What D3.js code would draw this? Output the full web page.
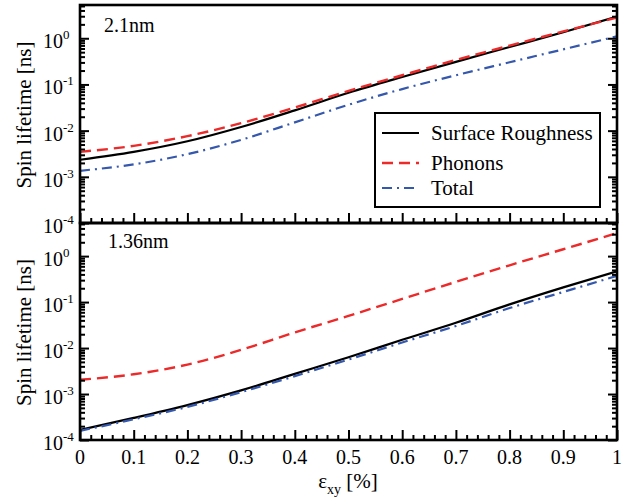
<!DOCTYPE html>
<html><head><meta charset="utf-8">
<script src="https://cdn.jsdelivr.net/npm/d3@7"></script>
<style>
body{margin:0;background:#fff}
svg{display:block}
text{font-family:"Liberation Serif","Times New Roman",serif;fill:#000}
</style>
</head><body>
<svg id="c" width="639" height="497"></svg>
<script>
// ---- data (spin lifetime in ns vs shear strain in %) ----
const strain = [0, 0.1, 0.2, 0.3, 0.4, 0.5, 0.6, 0.7, 0.8, 0.9, 1.0];
// 2.1 nm film
const sr21  = [2.34e-3, 3.47e-3, 5.89e-3, 1.20e-2, 2.75e-2, 6.6e-2, 0.145, 0.309, 0.646, 1.35, 2.95];
const ph21  = [3.47e-3, 4.68e-3, 7.59e-3, 1.45e-2, 3.16e-2, 7.24e-2, 0.158, 0.339, 0.692, 1.41, 2.82];
const tot21 = [1.35e-3, 1.86e-3, 3.09e-3, 6.31e-3, 1.51e-2, 3.63e-2, 7.94e-2, 0.158, 0.302, 0.575, 1.10];
// 1.36 nm film
const sr136  = [1.66e-4, 3.02e-4, 5.75e-4, 1.20e-3, 2.75e-3, 6.31e-3, 1.51e-2, 3.55e-2, 8.91e-2, 0.209, 0.468];
const ph136  = [2.04e-3, 2.69e-3, 4.37e-3, 9.12e-3, 2.19e-2, 5.01e-2, 0.117, 0.275, 0.631, 1.41, 3.16];
const tot136 = [1.58e-4, 2.82e-4, 5.25e-4, 1.10e-3, 2.45e-3, 5.62e-3, 1.32e-2, 3.02e-2, 7.41e-2, 0.166, 0.372];

const panelNames = ["2.1nm", "1.36nm"];
const seriesNames = ["Surface Roughness", "Phonons", "Total"];
const xTickVals = [0, 0.1, 0.2, 0.3, 0.4, 0.5, 0.6, 0.7, 0.8, 0.9, 1];
const xTickLabels = ["0", "0.1", "0.2", "0.3", "0.4", "0.5", "0.6", "0.7", "0.8", "0.9", "1"];
const yTickVals = [1e-4, 1e-3, 1e-2, 1e-1, 1e0];
const yTickExps = ["-4", "-3", "-2", "-1", "0"];
const yDomain = [1e-4, 5.25];

// ---- layout & style ----
const styles = [
  {color: "#000000", width: 2.2, dash: null},
  {color: "#ec2a2a", width: 2.4, dash: "11,6"},
  {color: "#3558ad", width: 2.2, dash: "10,5,2,5"}
];
const L = 80, R = 617;
const panels = [
  {name: panelNames[0], data: [sr21, ph21, tot21], top: 5, bottom: 223, lx: 104, ly: 32},
  {name: panelNames[1], data: [sr136, ph136, tot136], top: 223, bottom: 440, lx: 108, ly: 248}
];

const svg = d3.select("#c");
const x = d3.scaleLinear().domain([0, 1]).range([L, R]);

panels.forEach((p, pi) => {
  const y = d3.scaleLog().domain(yDomain).range([p.bottom, p.top]);
  const g = svg.append("g");
  const clipId = "clip" + pi;
  svg.append("clipPath").attr("id", clipId).append("rect")
    .attr("x", L).attr("y", p.top).attr("width", R - L).attr("height", p.bottom - p.top);

  // curves
  const line = d3.line().x((d, i) => x(strain[i])).y(d => y(d)).curve(d3.curveMonotoneX);
  p.data.forEach((s, si) => {
    g.append("path").datum(s)
      .attr("clip-path", `url(#${clipId})`)
      .attr("d", line)
      .attr("fill", "none")
      .attr("stroke", styles[si].color)
      .attr("stroke-width", styles[si].width)
      .attr("stroke-dasharray", styles[si].dash);
  });

  const minorY = y.ticks().filter(v => !yTickVals.some(t => Math.abs(t - v) / t < 1e-6));
  const minorX = d3.range(0, 50).map(i => i * 0.02).filter(v => Math.abs(v * 10 - Math.round(v * 10)) > 1e-6);

  function styleAxis(sel) {
    sel.select(".domain").remove();
    sel.selectAll(".tick line").attr("stroke", "#000").attr("stroke-width", 2);
    sel.selectAll(".tick text").remove();
  }
  g.append("g").attr("transform", `translate(${L},0)`)
    .call(d3.axisLeft(y).tickValues(yTickVals).tickSize(-9).tickFormat("")).call(styleAxis);
  g.append("g").attr("transform", `translate(${L},0)`)
    .call(d3.axisLeft(y).tickValues(minorY).tickSize(-5).tickFormat("")).call(styleAxis);
  g.append("g").attr("transform", `translate(${R},0)`)
    .call(d3.axisRight(y).tickValues(yTickVals).tickSize(-9).tickFormat("")).call(styleAxis);
  g.append("g").attr("transform", `translate(${R},0)`)
    .call(d3.axisRight(y).tickValues(minorY).tickSize(-5).tickFormat("")).call(styleAxis);
  g.append("g").attr("transform", `translate(0,${p.bottom})`)
    .call(d3.axisBottom(x).tickValues(xTickVals).tickSize(-10).tickFormat("")).call(styleAxis);
  g.append("g").attr("transform", `translate(0,${p.bottom})`)
    .call(d3.axisBottom(x).tickValues(minorX).tickSize(-5).tickFormat("")).call(styleAxis);

  // y tick labels 10^n
  yTickVals.forEach((v, i) => {
    const t = g.append("text").attr("x", 43).attr("y", y(v) + 10).style("font-size", "20px");
    t.append("tspan").text("10");
    t.append("tspan").attr("dy", -9).style("font-size", "13px").text(yTickExps[i]);
  });

  // frame
  g.append("rect").attr("x", L).attr("y", p.top).attr("width", R - L).attr("height", p.bottom - p.top)
    .attr("fill", "none").attr("stroke", "#000").attr("stroke-width", 2.6);

  // panel label
  g.append("text").attr("x", p.lx).attr("y", p.ly).style("font-size", "20px").text(p.name);

  // y title
  g.append("text").attr("transform", `translate(31,${(p.top + p.bottom) / 2 + 1}) rotate(-90)`)
    .attr("text-anchor", "middle").style("font-size", "21px").text("Spin lifetime [ns]");
});

// x tick labels (bottom panel)
xTickVals.forEach((v, i) => {
  svg.append("text").attr("x", x(v)).attr("y", 464).attr("text-anchor", "middle")
    .style("font-size", "20px").text(xTickLabels[i]);
});
// x title
const xt = svg.append("text").attr("x", 348).attr("y", 488).attr("text-anchor", "middle").style("font-size", "21px");
xt.append("tspan").text("ε");
xt.append("tspan").attr("dy", 6).style("font-size", "14px").text("xy");
xt.append("tspan").attr("dy", -6).text(" [%]");

// legend
const lg = svg.append("g");
lg.append("rect").attr("x", 375).attr("y", 113).attr("width", 225).attr("height", 94)
  .attr("fill", "#fff").attr("stroke", "#000").attr("stroke-width", 2);
const rowY = [133, 163, 188];
seriesNames.forEach((n, i) => {
  lg.append("line").attr("x1", 382).attr("x2", 419).attr("y1", rowY[i]).attr("y2", rowY[i])
    .attr("stroke", styles[i].color).attr("stroke-width", styles[i].width)
    .attr("stroke-dasharray", styles[i].dash);
  lg.append("text").attr("x", 431).attr("y", rowY[i] + 7).style("font-size", "21px").text(n);
});
</script>
</body></html>
